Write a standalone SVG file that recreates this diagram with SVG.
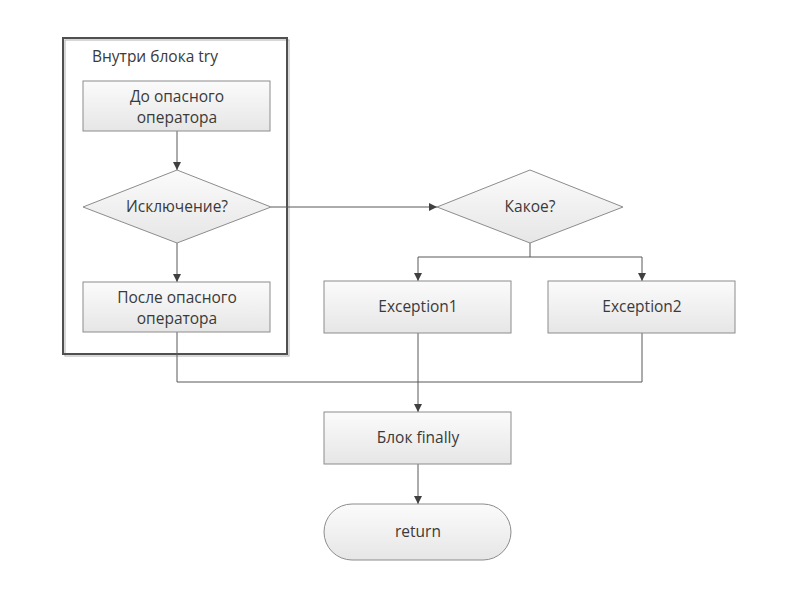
<svg xmlns="http://www.w3.org/2000/svg" width="800" height="600" viewBox="0 0 800 600">
<defs>
<linearGradient id="g" x1="0" y1="0" x2="0" y2="1">
<stop offset="0" stop-color="#fbfbfb"/>
<stop offset="1" stop-color="#e6e6e6"/>
</linearGradient>
<marker id="arr" viewBox="0 0 10 10" refX="10" refY="5" markerWidth="8" markerHeight="8" markerUnits="userSpaceOnUse" orient="auto">
<path d="M0,0 L10,5 L0,10 z" fill="#404040"/>
</marker>
</defs>
<style>
.shape{fill:url(#g);stroke:#8c8c8c;stroke-width:1}
.t{font-family:"Open Sans","Liberation Sans",sans-serif;font-size:15.5px;fill:#3a3a3a;text-anchor:middle}
.c{fill:none;stroke:#595959;stroke-width:1}
</style>
<rect width="800" height="600" fill="#ffffff"/>
<g id="try-block">
<rect x="64" y="39" width="224" height="316" fill="none" stroke="#b0b0b0" stroke-width="1" transform="translate(1,1)"/>
<rect x="63" y="38" width="224" height="316" fill="none" stroke="#505050" stroke-width="2"/>
<text class="t" x="92" y="62" style="text-anchor:start">Внутри блока try</text>
</g>
<g id="connectors">
<line class="c" x1="177" y1="131" x2="177" y2="170" marker-end="url(#arr)"/>
<line class="c" x1="177" y1="243" x2="177" y2="282" marker-end="url(#arr)"/>
<line class="c" x1="271" y1="207" x2="437" y2="207" marker-end="url(#arr)"/>
<polyline class="c" points="530,243 530,257 418,257 418,281" marker-end="url(#arr)"/>
<polyline class="c" points="530,257 642,257 642,281" marker-end="url(#arr)"/>
<polyline class="c" points="177,332 177,382 642,382 642,333"/>
<line class="c" x1="418" y1="333" x2="418" y2="412" marker-end="url(#arr)"/>
<line class="c" x1="418" y1="464" x2="418" y2="504" marker-end="url(#arr)"/>
</g>
<g id="n1">
<rect class="shape" x="83" y="81" width="187" height="50"/>
<text class="t" x="177" y="102">До опасного</text>
<text class="t" x="177" y="123">оператора</text>
</g>
<g id="n2">
<polygon class="shape" points="177,170 271,207 177,243 83,207"/>
<text class="t" x="177" y="212">Исключение?</text>
</g>
<g id="n3">
<rect class="shape" x="83" y="282" width="187" height="50"/>
<text class="t" x="177" y="303">После опасного</text>
<text class="t" x="177" y="324">оператора</text>
</g>
<g id="n4">
<polygon class="shape" points="530,170 623,207 530,243 437,207"/>
<text class="t" x="530" y="212">Какое?</text>
</g>
<g id="n5">
<rect class="shape" x="324" y="281" width="187" height="52"/>
<text class="t" x="418" y="312">Exception1</text>
</g>
<g id="n6">
<rect class="shape" x="548" y="281" width="187" height="52"/>
<text class="t" x="642" y="312">Exception2</text>
</g>
<g id="n7">
<rect class="shape" x="324" y="412" width="187" height="52"/>
<text class="t" x="418" y="443">Блок finally</text>
</g>
<g id="n8">
<rect class="shape" x="324" y="504" width="187" height="56" rx="28" ry="28"/>
<text class="t" x="418" y="537">return</text>
</g>
</svg>
